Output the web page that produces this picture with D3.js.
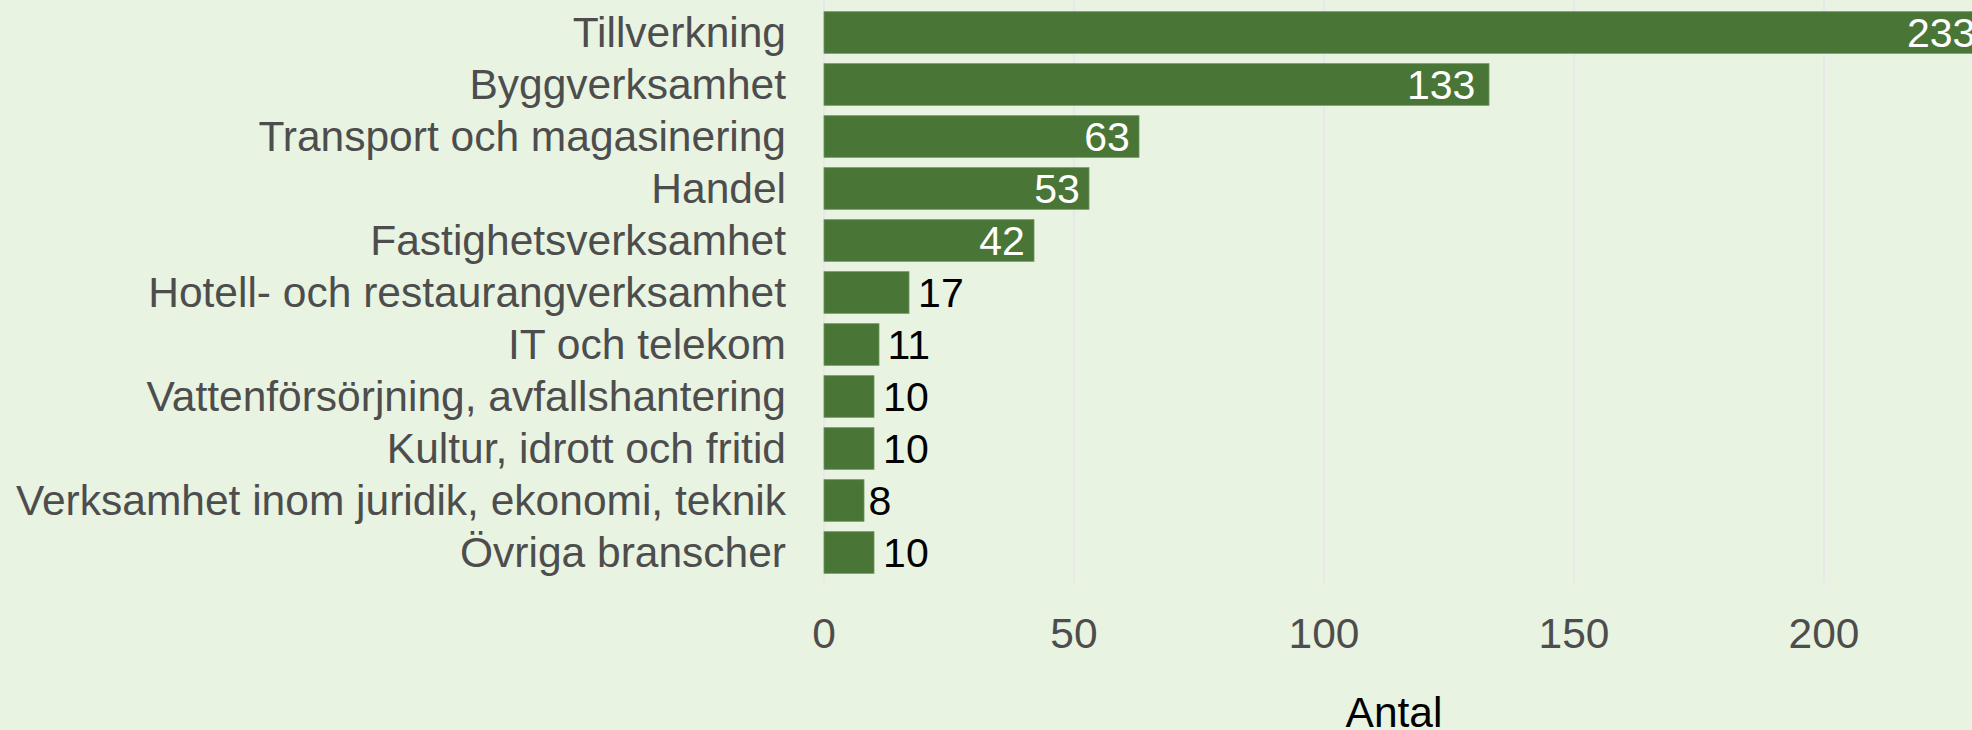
<!DOCTYPE html>
<html>
<head>
<meta charset="utf-8">
<script src="https://cdn.jsdelivr.net/npm/d3@7"></script>
<style>
  html, body { margin: 0; padding: 0; background: #e8f3e1; }
  svg { display: block; font-family: "Liberation Sans", Arial, Helvetica, sans-serif; }
</style>
</head>
<body>
<svg id="chart" width="1972" height="730"></svg>
<script>
const categories = [
  "Tillverkning",
  "Byggverksamhet",
  "Transport och magasinering",
  "Handel",
  "Fastighetsverksamhet",
  "Hotell- och restaurangverksamhet",
  "IT och telekom",
  "Vattenförsörjning, avfallshantering",
  "Kultur, idrott och fritid",
  "Verksamhet inom juridik, ekonomi, teknik",
  "Övriga branscher"
];
const counts = [233, 133, 63, 53, 42, 17, 11, 10, 10, 8, 10];
const xTicks = [0, 50, 100, 150, 200];
const axisTitle = "Antal";

const width = 1972, height = 730;
const data = categories.map((c, i) => ({ name: c, value: counts[i] }));

const svg = d3.select("#chart");

svg.append("rect")
  .attr("width", width)
  .attr("height", height)
  .attr("fill", "#e8f3e1");

// Scales
const x = d3.scaleLinear()
  .domain([0, 200])
  .range([824, 1824]);

const y = d3.scaleBand()
  .domain(categories)
  .range([1.3, 583.7])
  .paddingInner(0.2)
  .paddingOuter(0.2);

// Grid lines
svg.append("g")
  .selectAll("line")
  .data(xTicks)
  .join("line")
  .attr("x1", d => x(d))
  .attr("x2", d => x(d))
  .attr("y1", 0)
  .attr("y2", 583.7)
  .attr("stroke", "#e8e8e8")
  .attr("stroke-width", 2);

// Bars
svg.append("g")
  .selectAll("rect")
  .data(data)
  .join("rect")
  .attr("x", x(0))
  .attr("y", d => y(d.name))
  .attr("width", d => x(d.value) - x(0))
  .attr("height", y.bandwidth())
  .attr("fill", "#497636")
  .attr("stroke", "#6b9360")
  .attr("stroke-width", 0.8);

// Value labels: inside (white) for large bars, outside (black) for small
const valueLabels = svg.append("g")
  .attr("font-size", 41)
  .selectAll("text")
  .data(data)
  .join("text")
  .attr("y", d => y(d.name) + y.bandwidth() / 2)
  .attr("dy", "0.35em")
  .attr("fill", d => d.value > 30 ? "#ffffff" : "#000000")
  .attr("text-anchor", d => d.value > 30 ? "end" : "start")
  .text(d => d.value);

valueLabels.attr("x", function (d) {
  const w = this.getComputedTextLength();
  return d.value > 30 ? x(d.value) - 0.2 * w : x(d.value) + 0.2 * w;
});

// Category labels (y axis)
svg.append("g")
  .attr("font-size", 42.5)
  .attr("fill", "#4d4d4d")
  .attr("text-anchor", "end")
  .selectAll("text")
  .data(categories)
  .join("text")
  .attr("x", 786)
  .attr("y", d => y(d) + y.bandwidth() / 2)
  .attr("dy", "0.35em")
  .text(d => d);

// X axis tick labels
svg.append("g")
  .attr("font-size", 42.5)
  .attr("fill", "#4d4d4d")
  .attr("text-anchor", "middle")
  .selectAll("text")
  .data(xTicks)
  .join("text")
  .attr("x", d => x(d))
  .attr("y", 648)
  .text(d => d);

// Axis title
svg.append("text")
  .attr("x", 1394)
  .attr("y", 727)
  .attr("font-size", 42.5)
  .attr("fill", "#000000")
  .attr("text-anchor", "middle")
  .text(axisTitle);
</script>
</body>
</html>
